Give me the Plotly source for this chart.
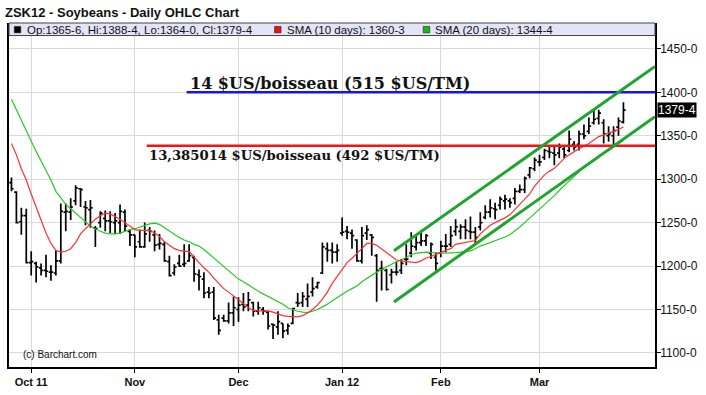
import plotly.graph_objects as go

# ---------------- data ----------------
opens = [1296, 1285, 1251, 1258, 1204, 1203, 1198, 1195, 1193, 1192,
         1206, 1262, 1262, 1275, 1289, 1268, 1265, 1244, 1250, 1255,
         1252, 1250, 1250, 1262, 1240, 1236, 1228, 1222, 1241, 1236,
         1225, 1225, 1205, 1192, 1203, 1202, 1206, 1210, 1190, 1185,
         1170, 1170, 1138, 1140, 1137, 1146, 1150, 1156, 1155, 1158,
         1148, 1150, 1147, 1133, 1130, 1134, 1126, 1134, 1158, 1158,
         1162, 1170, 1176, 1192, 1220, 1218, 1216, 1238, 1240, 1238,
         1230, 1206, 1238, 1236, 1212, 1197, 1195, 1190, 1193, 1195,
         1208, 1215, 1222, 1227, 1229, 1215, 1210, 1215, 1223, 1225,
         1240, 1240, 1245, 1240, 1239, 1245, 1256, 1262, 1266, 1270,
         1275, 1275, 1278, 1286, 1288, 1305, 1312, 1320, 1325, 1332,
         1330, 1330, 1335, 1333, 1340, 1340, 1352, 1355, 1365, 1370,
         1365, 1350, 1350, 1360, 1365.75]
highs = [1302, 1286, 1267, 1266, 1217, 1205, 1203, 1213, 1201, 1218,
         1272, 1272, 1278, 1293, 1290, 1275, 1276, 1246, 1263, 1264,
         1263, 1261, 1271, 1265, 1242, 1236, 1242, 1250, 1245, 1241,
         1237, 1228, 1212, 1202, 1213, 1225, 1225, 1212, 1196, 1193,
         1176, 1176, 1144, 1144, 1158, 1165, 1164, 1169, 1170, 1159,
         1159, 1153, 1148, 1134, 1148, 1134, 1134, 1152, 1169, 1170,
         1180, 1187, 1182, 1227, 1227, 1227, 1225, 1256, 1246, 1242,
         1231, 1245, 1247, 1237, 1214, 1206, 1197, 1197, 1205, 1208,
         1225, 1239, 1235, 1239, 1237, 1227, 1216, 1229, 1237, 1246,
         1254, 1248, 1254, 1257, 1245, 1262, 1270, 1277, 1273, 1280,
         1282, 1278, 1290, 1294, 1303, 1314, 1325, 1328, 1335, 1339,
         1339, 1341, 1339, 1356, 1344, 1356, 1363, 1371, 1380, 1380,
         1369, 1361, 1361, 1371, 1388.5]
lows = [1286, 1249, 1236, 1203, 1189, 1181, 1189, 1187, 1183, 1189,
        1203, 1240, 1253, 1270, 1268, 1247, 1244, 1222, 1244, 1240,
        1238, 1237, 1237, 1240, 1223, 1210, 1221, 1221, 1228, 1217,
        1219, 1205, 1188, 1189, 1199, 1199, 1205, 1182, 1172, 1163,
        1163, 1138, 1121, 1136, 1134, 1131, 1136, 1148, 1148, 1142,
        1144, 1144, 1127, 1116, 1121, 1117, 1121, 1133, 1153, 1153,
        1153, 1165, 1174, 1191, 1205, 1203, 1205, 1235, 1231, 1220,
        1205, 1203, 1230, 1212, 1159, 1172, 1172, 1180, 1189, 1191,
        1201, 1210, 1218, 1223, 1223, 1208, 1195, 1210, 1216, 1222,
        1235, 1231, 1231, 1231, 1224, 1241, 1254, 1256, 1254, 1265,
        1265, 1267, 1271, 1284, 1284, 1301, 1309, 1315, 1322, 1324,
        1316, 1324, 1324, 1331, 1333, 1333, 1346, 1352, 1363, 1363,
        1341, 1343, 1339, 1350, 1364]
closes = [1289, 1250, 1258, 1204, 1205, 1199, 1195, 1194, 1193, 1206,
          1263, 1263, 1268, 1290, 1288, 1267, 1267, 1243, 1261, 1252,
          1251, 1252, 1263, 1246, 1236, 1222, 1222, 1237, 1240, 1224,
          1226, 1206, 1189, 1199, 1200, 1203, 1212, 1191, 1188, 1169,
          1169, 1140, 1126, 1137, 1146, 1152, 1155, 1153, 1161, 1148,
          1152, 1148, 1131, 1132, 1136, 1125, 1131, 1151, 1157, 1165,
          1165, 1174, 1181, 1222, 1218, 1216, 1218, 1239, 1239, 1235,
          1206, 1235, 1242, 1233, 1195, 1197, 1173, 1193, 1193, 1203,
          1208, 1223, 1227, 1229, 1235, 1225, 1203, 1223, 1223, 1235,
          1245, 1245, 1241, 1239, 1233, 1250, 1262, 1267, 1265, 1277,
          1277, 1273, 1286, 1288, 1301, 1313, 1322, 1320, 1333, 1331,
          1328, 1337, 1328, 1346, 1337, 1352, 1350, 1361, 1369, 1376,
          1352, 1352, 1356, 1367, 1379.5]
sma10 = [1341, 1328, 1312, 1299, 1283, 1267, 1253, 1238, 1226, 1218,
         1216, 1217, 1220, 1227, 1237, 1243, 1249, 1254, 1258, 1261,
         1260, 1257, 1254, 1250, 1246, 1242, 1241, 1241, 1241, 1238,
         1234, 1228, 1224, 1220, 1218, 1217, 1217, 1210, 1204, 1198,
         1193, 1186, 1180, 1174, 1170, 1166, 1161, 1157, 1152, 1149,
         1148.5, 1148.5, 1148.5, 1147, 1145, 1143, 1142, 1141.5, 1141.5, 1143,
         1146, 1150, 1155, 1162, 1170, 1180, 1188, 1197, 1204, 1209,
         1214, 1220, 1226, 1226, 1224, 1220, 1216, 1212, 1207, 1206,
         1205, 1204.5, 1204, 1206, 1209, 1211, 1213.5, 1215.5, 1218, 1220,
         1225, 1226, 1227.5, 1228.5, 1229.4, 1237, 1242, 1247, 1250, 1252.5,
         1255.5, 1259, 1265, 1271, 1276, 1283, 1292, 1299, 1305, 1309,
         1312.5, 1318, 1324, 1328, 1332, 1335, 1338, 1341, 1345, 1349,
         1351, 1353, 1355, 1357, 1360.4]
sma20 = [1392, 1380, 1367, 1355, 1343, 1332, 1321, 1310, 1299, 1286,
         1279, 1271, 1266, 1261, 1256, 1251, 1246, 1243, 1240, 1238,
         1237, 1237, 1238, 1240, 1242, 1243, 1245, 1247, 1248.5, 1249.5,
         1248, 1244, 1240, 1236, 1233, 1230, 1228, 1225, 1223, 1219,
         1214, 1210, 1205, 1200, 1194, 1189, 1185, 1182, 1178, 1174,
         1171, 1168, 1165, 1162, 1159, 1156, 1152, 1150, 1148, 1147,
         1146.5, 1148, 1150, 1153, 1156, 1160, 1164, 1168, 1171, 1174,
         1177, 1182, 1186, 1190, 1193, 1196, 1199, 1202, 1205, 1207,
         1210, 1213, 1215, 1215.5, 1216, 1215.5, 1215, 1215, 1215, 1215,
         1215.5, 1216, 1216.5, 1217.5, 1220, 1223, 1225, 1227, 1229, 1231,
         1233.5, 1236, 1240, 1245, 1250, 1255, 1261, 1266, 1271, 1276,
         1281, 1287, 1293, 1298, 1303, 1309, 1314, 1318, 1322, 1327,
         1330, 1333, 1336.5, 1340, 1344.5]

month_ticks = [4, 25, 46, 67, 87, 107]
month_labels = ["Oct 11", "Nov", "Dec", "Jan 12", "Feb", "Mar"]
price_ticks = [1100, 1150, 1200, 1250, 1300, 1350, 1400, 1450]
price_labels = ["1100-0", "1150-0", "1200-0", "1250-0", "1300-0", "1350-0", "1400-0", "1450-0"]

level_values = [1400, 1338.5]
level_starts = [35.5, 27.4]
level_texts = ["14 $US/boisseau (515 $US/TM)", "13,385014 $US/boisseau (492 $US/TM)"]

channel_x = [77.5, 130.4]
channel_upper = [1217.7, 1429.8]
channel_lower = [1158.7, 1372.0]

title_text = "ZSK12 - Soybeans - Daily OHLC Chart"
legend_texts = ["Op:1365-6, Hi:1388-4, Lo:1364-0, Cl:1379-4",
                "SMA (10 days): 1360-3", "SMA (20 days): 1344-4"]
last_label = "1379-4"
last_value = 1379.5

# ---------------- figure ----------------
days = list(range(len(closes)))
x_min, x_max = -0.5, 130.4
y_min, y_max = 1083.8, 1479.8

fig = go.Figure()
fig.add_trace(go.Ohlc(
    x=days, open=opens, high=highs, low=lows, close=closes,
    increasing=dict(line=dict(color="black", width=1.7)),
    decreasing=dict(line=dict(color="black", width=1.7)),
    tickwidth=0.45, showlegend=False, hoverinfo="skip"))
fig.add_trace(go.Scatter(x=days, y=sma20, mode="lines",
                         line=dict(color="#22cc22", width=1.2), showlegend=False))
fig.add_trace(go.Scatter(x=days, y=sma10, mode="lines",
                         line=dict(color="#ff3030", width=1.2), showlegend=False))

level_colors = ["#1515e6", "#ff1010"]
for v, s, c in zip(level_values, level_starts, level_colors):
    fig.add_trace(go.Scatter(x=[s, x_max], y=[v, v], mode="lines",
                             line=dict(color=c, width=2.6), showlegend=False))

for yy in (channel_upper, channel_lower):
    fig.add_trace(go.Scatter(x=channel_x, y=yy, mode="lines",
                             line=dict(color="#1ea52e", width=3), showlegend=False))

# level text labels
fig.add_annotation(x=35.7, y=1410.0, xref="x", yref="y", text="<b>" + level_texts[0] + "</b>",
                   showarrow=False, xanchor="left", yanchor="middle",
                   font=dict(family="DejaVu Serif", size=16, color="#111"))
fig.add_annotation(x=27.4, y=1327.7, xref="x", yref="y", text="<b>" + level_texts[1] + "</b>",
                   showarrow=False, xanchor="left", yanchor="middle",
                   font=dict(family="DejaVu Serif", size=13.2, color="#111"))

# legend band
PW, PH, L, T = 648.0, 349.0, 7.0, 23.0
def px(xp):
    return (xp - L) / PW
def py(yp):
    return (T + PH - yp) / PH

shapes = [dict(type="rect", xref="paper", yref="paper", x0=0, x1=1, y0=py(35.7), y1=1.0,
               fillcolor="#e4e4f8", line=dict(color="#444", width=1), layer="above")]
sq = [(12.3, "black"), (273.4, "#ee1111"), (422.5, "#11bb11")]
for x0, c in sq:
    shapes.append(dict(type="rect", xref="paper", yref="paper", x0=px(x0), x1=px(x0 + 6.5),
                       y0=py(33.0), y1=py(26.5), fillcolor=c,
                       line=dict(color="#222", width=0.6), layer="above"))
fig.update_layout(shapes=shapes)
for xt, t in zip([23.5, 283.5, 432.5], legend_texts):
    fig.add_annotation(x=px(xt), y=py(29.8), xref="paper", yref="paper", text=t,
                       showarrow=False, xanchor="left", yanchor="middle",
                       font=dict(family="Liberation Sans", size=11.5, color="#111"))

fig.add_annotation(x=px(19), y=py(359), xref="paper", yref="paper", text="(c) Barchart.com",
                   showarrow=False, xanchor="left", yanchor="middle",
                   font=dict(family="Liberation Sans", size=10, color="#111"))

fig.add_annotation(x=1, y=last_value, xref="paper", yref="y", text=last_label,
                   showarrow=False, xanchor="left", yanchor="middle", xshift=2,
                   bgcolor="black", borderpad=0,
                   font=dict(family="Liberation Sans", size=12, color="white"))

fig.update_layout(
    width=706, height=395,
    margin=dict(l=7, r=51, t=23, b=23),
    paper_bgcolor="white", plot_bgcolor="white",
    title=dict(text="<b>" + title_text + "</b>", x=5 / 706, xanchor="left",
               xref="container", y=1 - 12 / 395, yanchor="middle", yref="container",
               font=dict(family="Liberation Sans", size=13, color="#111")),
    showlegend=False,
    xaxis=dict(range=[x_min, x_max], tickmode="array", tickvals=month_ticks,
               ticktext=month_labels, showgrid=True, gridcolor="#d9d9d9", gridwidth=1,
               showline=True, linecolor="black", linewidth=1.5, ticks="outside",
               ticklen=4, tickcolor="black", zeroline=False,
               tickfont=dict(family="Liberation Sans", size=11, color="#111", weight="bold"),
               rangeslider=dict(visible=False), fixedrange=True),
    yaxis=dict(range=[y_min, y_max], side="right", tickmode="array", tickvals=price_ticks,
               ticktext=price_labels, showgrid=True, gridcolor="#d9d9d9", gridwidth=1,
               showline=True, linecolor="black", linewidth=1.5, mirror=True,
               ticks="outside", ticklen=4, tickcolor="black", zeroline=False,
               ticklabelstandoff=-3,
               tickfont=dict(family="Liberation Sans", size=12, color="#111"), fixedrange=True),
)

fig.write_html("out.html", config={"displayModeBar": False},
               post_script="document.body.style.margin='0px';")
